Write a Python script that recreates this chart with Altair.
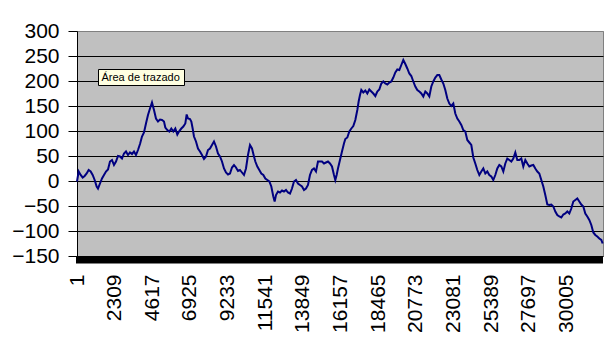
import altair as alt
import pandas as pd

N_CATEGORIES = 32250
tick_labels = [1, 2309, 4617, 6925, 9233, 11541, 13849, 16157, 18465, 20773,
               23081, 25389, 27697, 30005]
y_ticks = [-150, -100, -50, 0, 50, 100, 150, 200, 250, 300]

cats_a = [1, 102, 225, 348, 470, 593, 715, 838, 961, 1083, 1206, 1288, 1410, 1533, 1655,
          1778, 1901, 2023, 2146, 2268, 2391, 2514, 2636, 2759, 2882, 3004, 3127, 3249,
          3372, 3495, 3617, 3740, 3863, 3985, 4108, 4230, 4353, 4476, 4598, 4721, 4843,
          4966, 5089, 5211, 5334, 5416]
vals_a = [-1, 19, 12, 7, 10, 15, 22, 19, 12, 2, -11, -15, -5, 5, 12, 19, 23, 39, 42, 32,
          39, 50, 49, 45, 55, 59, 52, 57, 54, 59, 52, 62, 74, 89, 97, 115, 132, 145, 157,
          142, 125, 119, 123, 122, 119, 107]

cats_b = [5538, 5661, 5783, 5906, 6029, 6151, 6274, 6397, 6519, 6642, 6724, 6805, 6928,
          7010, 7092, 7173, 7296, 7418, 7541, 7664, 7786, 7909, 8032, 8154, 8277, 8399,
          8522, 8645, 8767, 8890, 9013, 9135, 9258, 9380, 9503, 9626, 9748, 9871, 9994,
          10116, 10239, 10361, 10484, 10607, 10729, 10852, 10934]
vals_b = [102, 99, 105, 99, 105, 93, 100, 105, 109, 115, 133, 125, 124, 119, 105, 89, 79,
          65, 59, 52, 44, 49, 62, 65, 72, 79, 69, 55, 49, 39, 25, 17, 13, 15, 27, 32, 27,
          20, 22, 17, 12, 25, 52, 72, 65, 49, 39]

cats_c = [11056, 11179, 11301, 11424, 11547, 11669, 11792, 11914, 12037, 12119, 12201,
          12323, 12446, 12569, 12691, 12814, 12936, 13059, 13182, 13304, 13427, 13550,
          13672, 13795, 13917, 14040, 14163, 14285, 14408, 14530, 14653, 14776, 14898,
          15021, 15144, 15266, 15389, 15511, 15634, 15757, 15838, 15920, 16001, 16124,
          16247, 16369, 16451]
vals_c = [29, 22, 15, 12, 5, 2, -1, -11, -31, -41, -28, -21, -23, -19, -21, -18, -23, -25,
          -15, -1, 2, -5, -8, -11, -18, -15, -8, 12, 22, 25, 19, 39, 39, 39, 35, 37, 39, 35,
          29, 12, 2, 12, 25, 42, 59, 75, 84]

cats_d = [16575, 16697, 16820, 16942, 17065, 17187, 17269, 17351, 17432, 17555, 17678,
          17800, 17923, 18045, 18168, 18291, 18413, 18536, 18659, 18781, 18904, 19026,
          19149, 19272, 19394, 19517, 19640, 19762, 19885, 20007, 20130, 20252, 20375,
          20498, 20620, 20743, 20866, 20988, 21111, 21233, 21356, 21479, 21601, 21724,
          21847, 21969]
vals_d = [87, 99, 105, 110, 122, 142, 159, 172, 182, 177, 181, 175, 183, 179, 175, 170,
          179, 183, 195, 199, 195, 193, 197, 199, 207, 217, 223, 222, 232, 242, 234, 225,
          215, 210, 199, 189, 182, 179, 175, 169, 179, 175, 169, 189, 199, 207]

cats_e = [22092, 22214, 22337, 22460, 22582, 22705, 22828, 22950, 23073, 23195, 23318,
          23441, 23563, 23686, 23808, 23931, 24054, 24176, 24299, 24421, 24544, 24667,
          24789, 24912, 25035, 25157, 25280, 25402, 25525, 25648, 25770, 25893, 26016,
          26138, 26261, 26383, 26506, 26629, 26751, 26874, 26996, 27119, 27242, 27364,
          27487]
vals_e = [212, 212, 203, 195, 182, 165, 155, 150, 155, 135, 125, 119, 112, 102, 99, 82,
          77, 72, 47, 35, 22, 12, 19, 25, 15, 19, 12, 9, 2, 12, 25, 32, 29, 19, 35, 45, 42,
          39, 45, 57, 42, 42, 45, 29, 42]

cats_f = [27610, 27732, 27855, 27977, 28100, 28223, 28345, 28468, 28591, 28713, 28836,
          28958, 29081, 29204, 29326, 29449, 29572, 29694, 29817, 29939, 30062, 30185,
          30307, 30430, 30553, 30675, 30798, 30920, 31043, 31166, 31288, 31411, 31534,
          31656, 31779, 31901, 32024, 32147, 32229]
vals_f = [35, 29, 31, 32, 25, 19, 15, 2, -11, -28, -47, -48, -47, -51, -61, -68, -71, -73,
          -67, -65, -61, -65, -55, -41, -38, -35, -41, -47, -51, -65, -71, -78, -88, -103,
          -108, -111, -115, -118, -125]

tooltip_text = "Área de trazado"

categories = cats_a + cats_b + cats_c + cats_d + cats_e + cats_f
values = vals_a + vals_b + vals_c + vals_d + vals_e + vals_f
df = pd.DataFrame({"cat": categories, "val": values})

W, H = 526, 225
FONT = "Liberation Sans"

x_scale = alt.Scale(domain=[0.5, N_CATEGORIES + 0.5], nice=False, zero=False)
y_scale = alt.Scale(domain=[-150, 300], nice=False, zero=False)

line = alt.Chart(df).mark_line(color="#000080", strokeWidth=2).encode(
    x=alt.X("cat:Q", scale=x_scale,
            axis=alt.Axis(values=tick_labels, format="d", labelAngle=270,
                          labelAlign="right", labelBaseline="middle",
                          labelFont=FONT, labelFontSize=21, labelColor="black",
                          labelPadding=18, ticks=False, domain=False, grid=False,
                          title=None, labelOverlap=False, labelFlush=False)),
    y=alt.Y("val:Q", scale=y_scale,
            axis=alt.Axis(values=y_ticks, labelFont=FONT, labelFontSize=21,
                          labelColor="black", tickColor="black", tickSize=9,
                          tickWidth=1, labelPadding=9, domainColor="black",
                          domainWidth=1, grid=True,
                          gridColor={"condition": {"test": "datum.value == 300",
                                                   "value": "#808080"},
                                     "value": "black"},
                          gridWidth=1, gridOpacity=1, title=None,
                          labelOverlap=False, labelFlush=False)),
)

blank = alt.Data(values=[{}])

band = alt.Chart(blank).mark_rect(color="black").encode(
    x=alt.value(-1), x2=alt.value(W), y=alt.value(H), y2=alt.value(H + 7.5))

tip_box = alt.Chart(blank).mark_rect(fill="#FFFFE1", stroke="black", strokeWidth=1).encode(
    x=alt.value(21.5), x2=alt.value(107.5), y=alt.value(38.5), y2=alt.value(54.5))

tip_text = alt.Chart(blank).mark_text(align="left", baseline="middle", font=FONT,
                                      fontSize=11, color="black").encode(
    x=alt.value(24.5), y=alt.value(46.5), text=alt.value(tooltip_text))

chart = alt.layer(line, band, tip_box, tip_text).properties(
    width=W, height=H,
    autosize=alt.AutoSizeParams(type="none"),
    padding={"left": 69, "top": 23, "right": 5, "bottom": 80},
    background="white",
).configure_view(fill="#C0C0C0", stroke="#808080", strokeWidth=1)

chart.save("out.html", embed_options={"renderer": "svg", "actions": False})
